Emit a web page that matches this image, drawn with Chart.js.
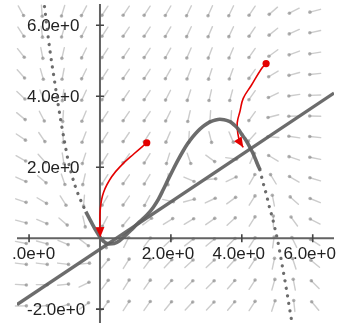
<!DOCTYPE html>
<html>
<head>
<meta charset="utf-8">
<script src="https://cdn.jsdelivr.net/npm/chart.js@4.4.1/dist/chart.umd.min.js"></script>
<style>
  html, body { margin: 0; padding: 0; background: #fff; }
  #wrap { position: absolute; left: 13px; top: 0; width: 325px; height: 327px; }
</style>
</head>
<body>
<div id="wrap"><canvas id="chart1" width="325" height="327"></canvas></div>
<script>
// visible window of the board
var xMin = -2.34, xMax = 6.60;
var yMin = -2.39, yMax = 6.60;

// axis ticks
var xTicks = [-2, 2, 4, 6];
var xTickLabels = ['-2.0e+0', '2.0e+0', '4.0e+0', '6.0e+0'];
var yTicks = [-2, 2, 4, 6];
var yTickLabels = ['-2.0e+0', '2.0e+0', '4.0e+0', '6.0e+0'];

// dotted branch of the curve, left side
var leftX = [-1.62, -1.60, -1.50, -1.40, -1.30, -1.20, -1.10, -1.00, -0.90, -0.80, -0.70, -0.60, -0.50, -0.40];
var leftY = [6.95, 6.81, 5.98, 5.21, 4.55, 3.90, 3.28, 2.72, 2.20, 1.80, 1.47, 1.20, 0.97, 0.75];

// solid part of the curve
var midX = [-0.40, -0.30, -0.20, -0.10, 0.00, 0.10, 0.25, 0.40, 0.55, 0.70, 0.88, 1.05, 1.18, 1.35, 1.51, 1.65, 1.79, 1.92, 2.06, 2.20, 2.34, 2.47, 2.61, 2.75, 2.89, 3.02, 3.14, 3.26, 3.38, 3.50, 3.63, 3.73, 3.82, 3.91, 3.99, 4.09, 4.18, 4.26, 4.32, 4.38, 4.44, 4.51];
var midY = [0.75, 0.56, 0.37, 0.19, 0.03, -0.09, -0.16, -0.15, -0.07, 0.06, 0.23, 0.40, 0.52, 0.68, 0.88, 1.10, 1.38, 1.65, 1.93, 2.20, 2.45, 2.66, 2.85, 3.01, 3.14, 3.23, 3.29, 3.33, 3.35, 3.34, 3.30, 3.24, 3.16, 3.06, 2.94, 2.80, 2.65, 2.50, 2.38, 2.24, 2.09, 1.93];

// dotted branch of the curve, right side
var rightX = [4.51, 4.59, 4.69, 4.78, 4.87, 4.95, 5.01, 5.10, 5.19, 5.28, 5.37, 5.46];
var rightY = [1.93, 1.60, 1.24, 0.87, 0.55, 0.20, -0.06, -0.55, -1.05, -1.57, -2.12, -2.65];

// straight line
var lineX = [-2.34, 6.60];
var lineY = [-1.87, 4.09];

// red trajectories (first point = start dot, last point = arrow tip)
var path1X = [1.32, 0.96, 0.61, 0.33, 0.10, 0.01, 0.00, 0.01];
var path1Y = [2.69, 2.38, 2.06, 1.73, 1.29, 0.83, 0.28, 0.03];
var path2X = [4.685, 4.55, 4.27, 4.04, 3.95, 3.87, 3.89, 3.95, 4.04];
var path2Y = [4.92, 4.77, 4.31, 3.94, 3.58, 3.25, 2.94, 2.70, 2.56];

// direction field: grid columns, rows and arrow angle (deg, ccw) per row
var fieldX = [-2.23, -1.64, -1.04, -0.45, 0.14, 0.74, 1.33, 1.92, 2.51, 3.11, 3.70, 4.29, 4.89, 5.48, 6.07];
var fieldY = [6.41, 5.82, 5.22, 4.63, 4.03, 3.44, 2.85, 2.25, 1.66, 1.06, 0.47, -0.12, -0.72, -1.31, -1.91];
var fieldAngle = [
  [299, 274, 253, 242, 237, 236, 237, 240, 244, 246, 244, 236, 221, 207, 195],
  [303, 277, 254, 243, 237, 236, 237, 240, 245, 247, 245, 236, 219, 204, 192],
  [308, 281, 257, 244, 237, 236, 237, 241, 247, 249, 247, 235, 216, 200, 189],
  [312, 286, 259, 244, 237, 236, 237, 241, 249, 252, 250, 235, 211, 195, 186],
  [317, 291, 262, 245, 237, 236, 237, 243, 252, 257, 255, 235, 205, 189, 182],
  [321, 297, 266, 247, 237, 236, 237, 244, 257, 266, 266, 234, 194, 181, 178],
  [326, 304, 272, 249, 238, 236, 238, 247, 267, 284, 293, 228, 176, 172, 174],
  [331, 312, 279, 252, 238, 235, 238, 253, 289, 324, 352, 66, 149, 162, 169],
  [336, 320, 289, 257, 238, 235, 239, 269, 337, 5, 25, 60, 121, 150, 164],
  [341, 329, 302, 265, 239, 235, 242, 347, 15, 25, 36, 58, 101, 138, 158],
  [345, 337, 319, 283, 242, 231, 37, 32, 31, 35, 42, 58, 90, 126, 153],
  [349, 345, 337, 323, 285, 63, 53, 43, 38, 40, 45, 57, 82, 116, 147],
  [353, 353, 353, 6, 50, 58, 54, 47, 42, 43, 47, 57, 78, 108, 141],
  [357, 359, 6, 26, 53, 58, 55, 49, 45, 45, 49, 57, 74, 101, 135],
  [1, 5, 15, 35, 54, 57, 55, 51, 47, 47, 50, 57, 72, 96, 130]
];

function pts(xs, ys) {
  var out = [];
  for (var i = 0; i < xs.length; i++) out.push({x: xs[i], y: ys[i]});
  return out;
}

var gray = 'rgba(95,95,95,0.92)';
var red = 'rgb(228,0,0)';

// arrows of the field + axes, drawn under the curves
var boardPlugin = {
  id: 'board',
  beforeDatasetsDraw: function(chart) {
    var c = chart.ctx;
    var xs = chart.scales.x, ys = chart.scales.y;
    var area = chart.chartArea;
    var half = 5.5;
    c.save();
    c.lineCap = 'round';
    for (var k = 0; k < fieldY.length; k++) {
      for (var i = 0; i < fieldX.length; i++) {
        var px = xs.getPixelForValue(fieldX[i]);
        var py = ys.getPixelForValue(fieldY[k]);
        var t = fieldAngle[k][i] * Math.PI / 180;
        var dx = Math.cos(t) * half, dy = -Math.sin(t) * half;
        c.strokeStyle = 'rgba(120,120,120,0.38)';
        c.lineWidth = 1.4;
        c.beginPath();
        c.moveTo(px - dx, py - dy);
        c.lineTo(px + dx, py + dy);
        c.stroke();
        c.fillStyle = 'rgba(120,120,120,0.55)';
        c.beginPath();
        c.arc(px + dx, py + dy, 1.8, 0, 2 * Math.PI);
        c.fill();
      }
    }

    // axes
    var x0 = xs.getPixelForValue(0), y0 = ys.getPixelForValue(0);
    c.strokeStyle = '#636363';
    c.lineWidth = 2;
    c.lineCap = 'butt';
    c.beginPath();
    c.moveTo(area.left, y0); c.lineTo(area.right, y0);
    c.moveTo(x0, area.top); c.lineTo(x0, area.bottom);
    c.stroke();

    // ticks crossing the axes
    c.strokeStyle = '#444';
    c.lineWidth = 1.6;
    c.beginPath();
    xTicks.forEach(function(v) {
      var p = xs.getPixelForValue(v);
      c.moveTo(p, y0 - 4); c.lineTo(p, y0 + 4);
    });
    yTicks.forEach(function(v) {
      var p = ys.getPixelForValue(v);
      c.moveTo(x0 - 4, p); c.lineTo(x0 + 4, p);
    });
    c.stroke();

    // tick labels
    c.fillStyle = '#222';
    c.font = '17px "Liberation Sans", Arial, sans-serif';
    c.textBaseline = 'alphabetic';
    c.textAlign = 'center';
    xTicks.forEach(function(v, i) {
      c.fillText(xTickLabels[i], xs.getPixelForValue(v) - 3, y0 + 21);
    });
    c.textAlign = 'left';
    yTicks.forEach(function(v, i) {
      c.fillText(yTickLabels[i], x0 - 73, ys.getPixelForValue(v) + 6);
    });
    c.restore();
  }
};

// arrow heads at the end of the red paths
var headPlugin = {
  id: 'heads',
  afterDatasetsDraw: function(chart) {
    var c = chart.ctx;
    chart.data.datasets.forEach(function(ds, di) {
      if (!ds.arrowEnd) return;
      var el = chart.getDatasetMeta(di).data;
      var a = el[el.length - 2], b = el[el.length - 1];
      var ang = Math.atan2(b.y - a.y, b.x - a.x);
      var len = 10, w = 4.5;
      c.save();
      c.fillStyle = red;
      c.beginPath();
      c.moveTo(b.x, b.y);
      c.lineTo(b.x - len * Math.cos(ang) + w * Math.sin(ang), b.y - len * Math.sin(ang) - w * Math.cos(ang));
      c.lineTo(b.x - len * Math.cos(ang) - w * Math.sin(ang), b.y - len * Math.sin(ang) + w * Math.cos(ang));
      c.closePath();
      c.fill();
      c.restore();
    });
  }
};

function startDot(n) {
  var r = [3.6];
  for (var i = 1; i < n; i++) r.push(0);
  return r;
}

var ctx = document.getElementById('chart1').getContext('2d');
var chart1 = new Chart(ctx, {
  type: 'scatter',
  data: {
    datasets: [
      {
        data: pts(leftX, leftY), showLine: true, pointRadius: 0,
        borderColor: gray, borderWidth: 3.2, borderDash: [0.1, 7.5], borderCapStyle: 'round',
        cubicInterpolationMode: 'monotone'
      },
      {
        data: pts(rightX, rightY), showLine: true, pointRadius: 0,
        borderColor: gray, borderWidth: 3.2, borderDash: [0.1, 7.5], borderCapStyle: 'round',
        cubicInterpolationMode: 'monotone'
      },
      {
        data: pts(midX, midY), showLine: true, pointRadius: 0,
        borderColor: gray, borderWidth: 3.6, cubicInterpolationMode: 'monotone'
      },
      {
        data: pts(lineX, lineY), showLine: true, pointRadius: 0,
        borderColor: gray, borderWidth: 3.4
      },
      {
        data: pts(path1X, path1Y), showLine: true, tension: 0.4, arrowEnd: true,
        pointRadius: startDot(path1X.length), pointBackgroundColor: red, pointBorderWidth: 0,
        borderColor: red, borderWidth: 1.6
      },
      {
        data: pts(path2X, path2Y), showLine: true, tension: 0.4, arrowEnd: true,
        pointRadius: startDot(path2X.length), pointBackgroundColor: red, pointBorderWidth: 0,
        borderColor: red, borderWidth: 1.6
      }
    ]
  },
  options: {
    responsive: false,
    animation: false,
    events: [],
    layout: { padding: 0 },
    plugins: {
      legend: { display: false },
      tooltip: { enabled: false }
    },
    scales: {
      x: { type: 'linear', min: xMin, max: xMax, display: false },
      y: { type: 'linear', min: yMin, max: yMax, display: false }
    }
  },
  plugins: [boardPlugin, headPlugin]
});
</script>
</body>
</html>
